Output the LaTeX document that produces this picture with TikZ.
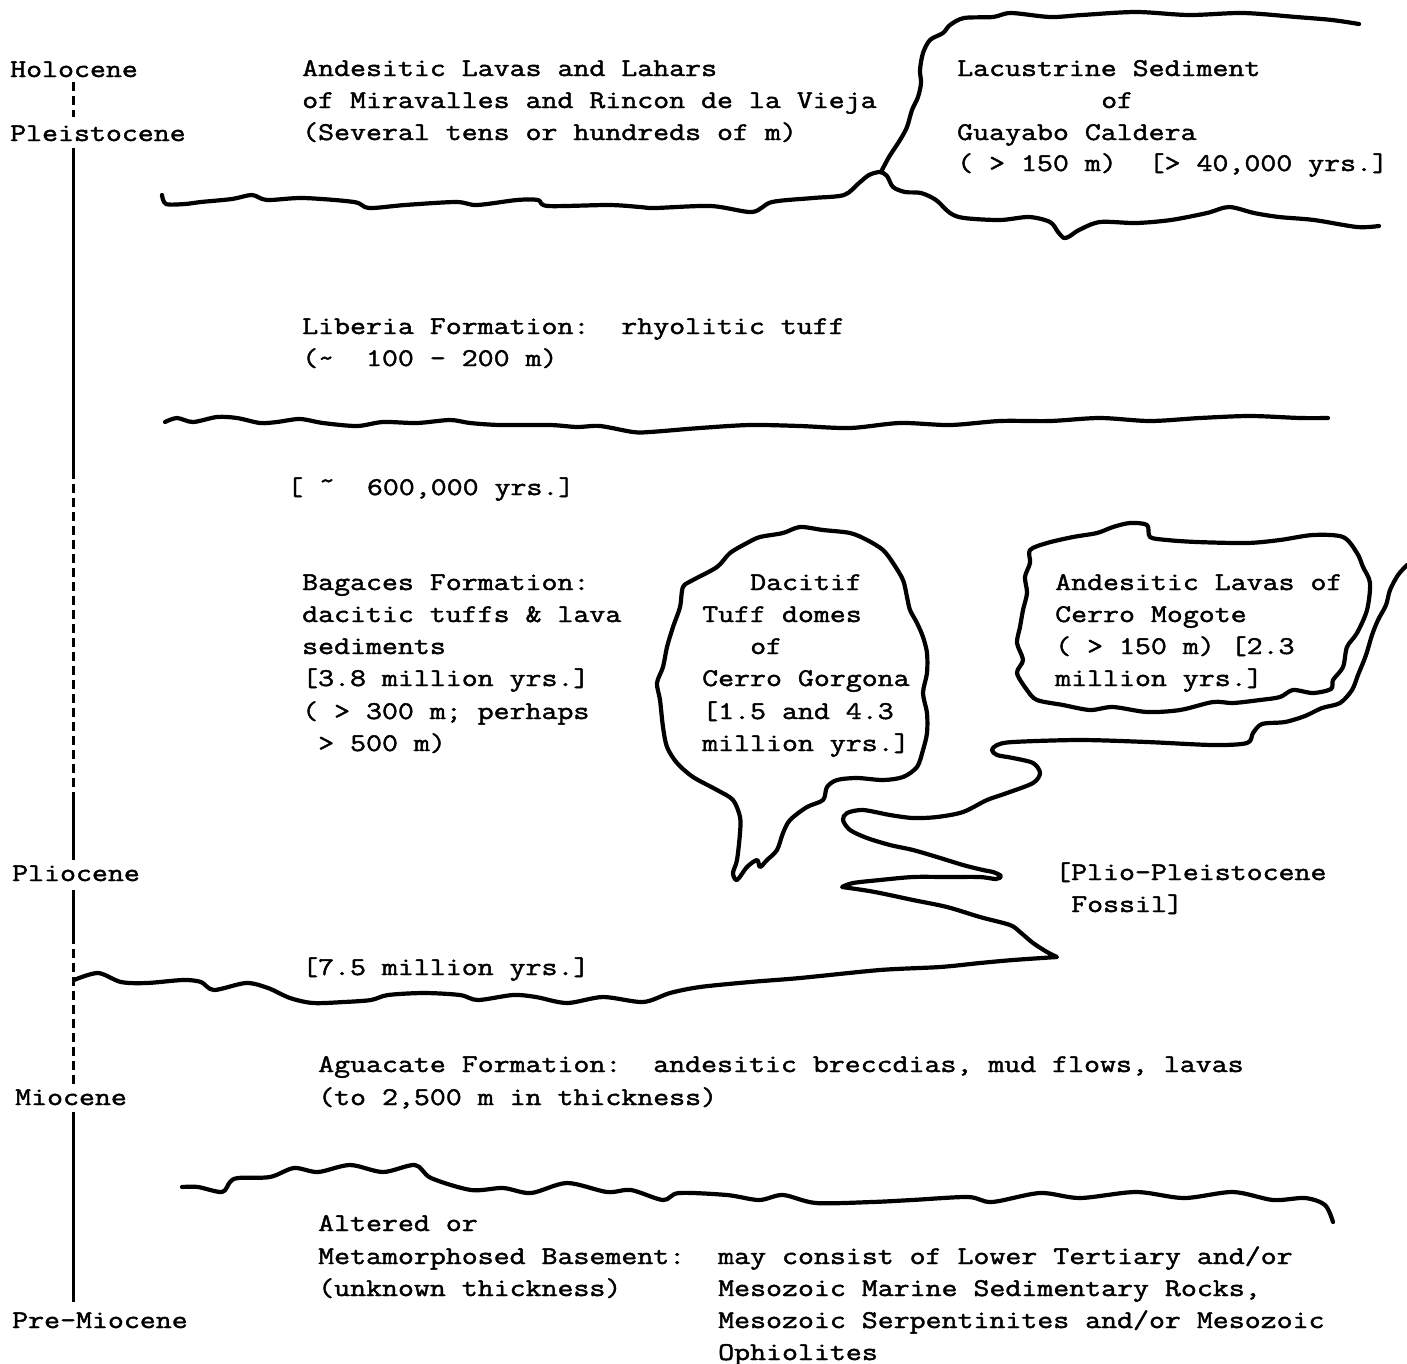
\documentclass[tikz,border=0pt]{standalone}
\usepackage{fontspec}
\newfontfamily\tw{Latin Modern Mono}[FakeStretch=1.215,FakeBold=1.7]
\begin{document}
\frenchspacing
\begin{tikzpicture}[x=1pt,y=-1pt,
  lbl/.style={anchor=base west, inner sep=0pt, font=\tw\fontsize{25.5pt}{32pt}\selectfont},
  rock/.style={line width=4.2pt, line join=round, line cap=round},
  axisline/.style={line width=3pt},
  axisdash/.style={line width=3pt, dash pattern=on 9pt off 5pt}]
\fill[white] (0,0) rectangle (1407,1363);
\useasboundingbox (0,0) rectangle (1407,1363);

% ---------- epoch labels and axis ----------
\node[lbl] (holo) at (10,77) {Holocene};
\node[lbl] (pleis) at (10,141) {Pleistocene};
\node[lbl] (plio) at (12,881) {Pliocene};
\node[lbl] (mio) at (15,1105) {Miocene};
\node[lbl] (premio) at (12,1328) {Pre-Miocene};

\coordinate (ax0) at (73,82);
\coordinate (ax1) at (73,117);
\coordinate (ax2) at (73,148);
\coordinate (ax3) at (73,470);
\coordinate (ax4) at (73,792);
\coordinate (ax5) at (73,860);
\coordinate (ax6) at (73,890);
\coordinate (ax7) at (73,935);
\coordinate (ax8) at (73,1085);
\coordinate (ax9) at (73,1112);
\coordinate (ax10) at (73,1302);
\draw[axisdash] (ax0) -- (ax1);
\draw[axisline] (ax2) -- (ax3);
\draw[axisdash] (ax3) -- (ax4);
\draw[axisline] (ax4) -- (ax5);
\draw[axisline] (ax6) -- (ax7);
\draw[axisdash] (ax7) -- (ax8);
\draw[axisline] (ax9) -- (ax10);

% ---------- texts ----------
\node[lbl] (a1) at (302,76) {Andesitic Lavas and Lahars};
\node[lbl] (a2) at (302,108) {of Miravalles and Rincon de la Vieja};
\node[lbl] (a3) at (302,140) {(Several tens or hundreds of m)};

\node[lbl] (c1) at (957,76) {Lacustrine Sediment};
\node[lbl] (c2) at (1101,108) {of};
\node[lbl] (c3) at (957,140) {Guayabo Caldera};
\node[lbl] (c4) at (957,171) {( > 150 m)\ \ [> 40,000 yrs.]};

\node[lbl] (l1) at (302,334) {Liberia Formation:\ \ rhyolitic tuff};
\node[lbl] (l2) at (302,366) {(\textasciitilde\ \ 100 - 200 m)};

\node[lbl] (age6) at (287,495) {[ \char"02DC\ \ 600,000 yrs.]};

\node[lbl] (b1) at (302,590) {Bagaces Formation:};
\node[lbl] (b2) at (302,622) {dacitic tuffs \& lava};
\node[lbl] (b3) at (302,654) {sediments};
\node[lbl] (b4) at (302,686) {[3.8 million yrs.]};
\node[lbl] (b5) at (302,719) {( > 300 m; perhaps};
\node[lbl] (b6) at (318,751) {> 500 m)};

\node[lbl] (g1) at (750,590) {Dacitif};
\node[lbl] (g2) at (702,622) {Tuff domes};
\node[lbl] (g3) at (750,654) {of};
\node[lbl] (g4) at (702,686) {Cerro Gorgona};
\node[lbl] (g5) at (702,719) {[1.5 and 4.3};
\node[lbl] (g6) at (702,751) {million yrs.]};

\node[lbl] (m1) at (1055,590) {Andesitic Lavas of};
\node[lbl] (m2) at (1055,622) {Cerro Mogote};
\node[lbl] (m3) at (1055,654) {( > 150 m) [2.3};
\node[lbl] (m4) at (1055,686) {million yrs.]};

\node[lbl] (f1) at (1055,880) {[Plio-Pleistocene};
\node[lbl] (f2) at (1071,912) {Fossil]};

\node[lbl] (age75) at (302,975) {[7.5 million yrs.]};

\node[lbl] (q1) at (318,1072) {Aguacate Formation:\ \ andesitic breccdias, mud flows, lavas};
\node[lbl] (q2) at (318,1105) {(to 2,500 m in thickness)};

\node[lbl] (s1) at (318,1231) {Altered or};
\node[lbl] (s2) at (318,1264) {Metamorphosed Basement:};
\node[lbl] (s2b) at (718,1264) {may consist of Lower Tertiary and/or};
\node[lbl] (s3) at (318,1296) {(unknown thickness)};
\node[lbl] (s4) at (718,1296) {Mesozoic Marine Sedimentary Rocks,};
\node[lbl] (s5) at (718,1328) {Mesozoic Serpentinites and/or Mesozoic};
\node[lbl] (s6) at (718,1360) {Ophiolites};

% ---------- contact lines ----------
% top line + caldera floor
\draw[rock] plot[smooth, tension=0.5] coordinates {(162,195) (166,204) (185,204) (201,202) (232,199) (252,195) (267,200) (303,198) (354,202) (369,208) (405,205) (456,202) (477,205) (517,200) (538,200) (548,206) (609,205) (640,207) (655,208) (711,206) (752,212) (772,202) (813,198) (844,195) (859,183) (869,175) (880,172) (887,176) (893,187) (905,192) (921,193) (936,200) (950,213) (964,218) (1000,220) (1029,217) (1050,222) (1058,232) (1064,238) (1070,236) (1079,230) (1100,222) (1136,223) (1171,220) (1207,213) (1229,207) (1254,213) (1279,217) (1314,220) (1357,227) (1379,226)};
% caldera wall and top
\draw[rock] plot[smooth, tension=0.5] coordinates {(881,172) (889,157) (900,140) (907,127) (912,110) (918,97) (921,83) (920,70) (923,53) (930,40) (943,33) (950,25) (964,18) (993,17) (1011,13) (1050,17) (1082,15) (1136,12) (1189,15) (1243,13) (1296,17) (1332,20) (1359,24)};

% Liberia base
\draw[rock] plot[smooth, tension=0.5] coordinates {(165,422) (177,418) (193,422) (217,417) (237,418) (260,423) (277,422) (300,419) (323,423) (357,426) (383,422) (417,423) (450,420) (470,423) (500,425) (550,425) (577,427) (600,426) (633,432) (650,432) (700,428) (750,425) (800,426) (850,428) (900,423) (950,425) (1000,421) (1050,421) (1100,418) (1150,421) (1200,418) (1250,416) (1300,418) (1328,418)};

% Bagaces base with serpentine contact and Mogote tail
\draw[rock] plot[smooth, tension=0.5] coordinates {(74,980) (98,973) (121,982) (147,983) (183,980) (201,982) (214,990) (246,983) (268,988) (290,998) (313,1003) (344,1002) (371,1000) (388,995) (424,993) (460,995) (478,1000) (513,995) (536,997) (567,1003) (603,997) (643,1002) (670,993) (700,987) (750,982) (800,978) (880,970) (940,967) (980,963) (1013,960) (1057,957)}
  -- plot[smooth, tension=0.5] coordinates {(1057,957) (1047,952) (1033,943) (1020,932) (1010,925) (980,917) (947,907) (913,900) (880,893) (863,890) (842,887)}
  -- plot[smooth, tension=0.5] coordinates {(842,887) (853,883) (880,880) (913,877) (947,877) (980,877) (996,879) (1001,876) (993,872) (983,870) (963,865) (937,857) (913,850) (890,845) (867,838) (850,830) (843,820) (847,813) (863,810) (890,815) (913,818) (937,817) (963,812) (987,800) (1007,793) (1033,783) (1040,773) (1033,763) (1013,758) (997,755) (992,750) (997,745) (1013,742) (1080,740) (1147,742) (1213,745) (1247,743) (1253,733) (1262,724) (1285,722) (1305,716) (1322,708) (1340,703) (1352,690) (1358,675) (1366,655) (1372,635) (1378,620) (1386,605) (1390,590) (1398,575) (1407,565)};

% Aguacate top
\draw[rock] plot[smooth, tension=0.5] coordinates {(182,1187) (198,1187) (222,1192) (230,1182) (238,1178) (270,1177) (294,1168) (318,1172) (350,1165) (383,1172) (415,1165) (431,1178) (471,1190) (503,1188) (531,1193) (567,1183) (607,1192) (631,1190) (663,1200) (679,1193) (727,1195) (759,1200) (783,1195) (816,1203) (872,1202) (912,1200) (968,1197) (992,1202) (1040,1193) (1080,1198) (1136,1192) (1184,1198) (1233,1192) (1273,1200) (1305,1198) (1325,1205) (1333,1222)};

% Cerro Gorgona dome
\draw[rock] plot[smooth cycle, tension=0.5] coordinates {(760,537) (783,533) (800,527) (823,530) (850,533) (867,540) (883,550) (893,563) (903,580) (907,597) (910,610) (917,623) (923,637) (927,653) (927,673) (923,693) (927,713) (927,733) (923,750) (917,767) (903,777) (883,780) (857,778) (837,780) (827,787) (823,800) (807,807) (790,820) (783,833) (777,850) (767,860) (760,867) (757,860) (747,867) (737,880) (733,873) (737,860) (740,833) (740,817) (733,800) (717,790) (693,777) (677,763) (667,747) (663,727) (660,700) (657,683) (663,667) (667,647) (673,627) (680,607) (683,587) (693,580) (717,567) (730,553) (747,543)};

% Cerro Mogote lavas
\draw[rock] plot[smooth cycle, tension=0.5] coordinates {(1030,550) (1047,543) (1073,537) (1097,533) (1113,527) (1130,523) (1147,525) (1150,537) (1167,540) (1197,542) (1247,543) (1280,540) (1313,535) (1343,537) (1357,553) (1363,567) (1370,583) (1367,610) (1357,633) (1347,647) (1343,667) (1333,680) (1331,689) (1313,693) (1293,690) (1280,697) (1260,700) (1233,703) (1213,702) (1180,710) (1147,712) (1113,707) (1090,710) (1063,705) (1037,700) (1027,690) (1017,673) (1023,660) (1017,643) (1020,627) (1023,610) (1027,593) (1025,577) (1030,563)};

\end{tikzpicture}
\end{document}
